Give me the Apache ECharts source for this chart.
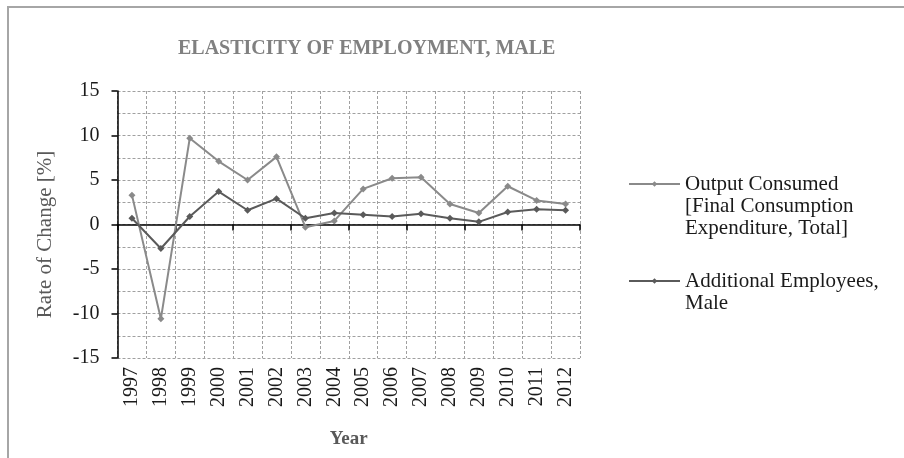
<!DOCTYPE html>
<html>
<head>
<meta charset="utf-8">
<script src="https://cdn.jsdelivr.net/npm/echarts@6/dist/echarts.min.js"></script>
<style>
  html, body { margin: 0; padding: 0; background: #fff; overflow: hidden; }
  #frame { position: absolute; left: 7px; top: 6px; width: 1000px; height: 600px;
           border-left: 2px solid #a6a6a6; border-top: 2px solid #a6a6a6; }
  #chart { position: absolute; left: 0; top: 0; width: 904px; height: 458px; }
</style>
</head>
<body>
<div id="frame"></div>
<div id="chart"></div>
<script>
// Years on the category axis
const years = ['1997','1998','1999','2000','2001','2002','2003','2004',
               '2005','2006','2007','2008','2009','2010','2011','2012'];

// Output consumed: final consumption expenditure, total (% change)
const outputConsumed = [3.3, -10.6, 9.7, 7.1, 5.0, 7.6, -0.3, 0.4,
                        4.0, 5.2, 5.3, 2.3, 1.3, 4.3, 2.7, 2.3];

// Additional employees, male (% change)
const additionalEmployees = [0.7, -2.7, 0.9, 3.7, 1.6, 2.9, 0.7, 1.3,
                             1.1, 0.9, 1.2, 0.7, 0.3, 1.4, 1.7, 1.6];

// Y axis range and step
const yMin = -15, yMax = 15, yStep = 5;

const nameOutput = 'Output Consumed\n[Final Consumption\nExpenditure, Total]';
const nameEmployees = 'Additional Employees,\nMale';

const FONT = '"Liberation Serif", "DejaVu Serif", serif';
const LH = 22;
const gridDash = { color: '#a0a0a0', type: [3, 2], width: 1 };

// Legend text is vertically centred on its icon; leading blank lines
// put the first real line level with the icon instead.
function topAligned(name) {
  const n = name.split('\n').length;
  return '\n'.repeat(n - 1) + name;
}

function legendFor(name, iconY) {
  const n = name.split('\n').length;
  return {
    data: [name], left: 628, top: iconY - (2 * n - 1) * LH / 2, orient: 'vertical',
    padding: 0, itemWidth: 51, itemHeight: 7, itemGap: 0, selectedMode: false,
    formatter: topAligned,
    textStyle: { fontFamily: FONT, fontSize: 21, color: '#1a1a1a', lineHeight: LH }
  };
}

const chart = echarts.init(document.getElementById('chart'), null, { renderer: 'canvas' });

chart.setOption({
  animation: false,
  backgroundColor: 'transparent',
  title: {
    text: 'ELASTICITY OF EMPLOYMENT, MALE',
    left: 173, top: 34,
    textStyle: { fontFamily: FONT, fontSize: 20, fontWeight: 'bold', color: '#808080' }
  },
  legend: [legendFor(nameOutput, 184), legendFor(nameEmployees, 281)],
  grid: { left: 117.5, top: 91, right: 324, bottom: 100, containLabel: false },
  xAxis: [
    {
      type: 'category', data: years, position: 'bottom', boundaryGap: true,
      name: 'Year', nameLocation: 'middle', nameGap: 72,
      nameTextStyle: { fontFamily: FONT, fontSize: 19, fontWeight: 'bold', color: '#595959' },
      axisLine: { show: false, onZero: false },
      axisTick: { show: false },
      axisLabel: { rotate: 90, margin: 9, fontFamily: FONT, fontSize: 20, color: '#1a1a1a' },
      splitLine: { show: true, lineStyle: gridDash }
    },
    {
      type: 'category', data: years, position: 'bottom', boundaryGap: true,
      axisLine: { show: true, onZero: true, lineStyle: { color: '#000', width: 1.5 } },
      axisTick: { show: true, length: 6, inside: false, alignWithLabel: false,
                  lineStyle: { color: '#000', width: 1.5 } },
      axisLabel: { show: false },
      splitLine: { show: false }
    }
  ],
  yAxis: {
    type: 'value', min: yMin, max: yMax, interval: yStep,
    name: 'Rate of Change [%]', nameLocation: 'middle', nameGap: 62, nameRotate: 90,
    nameTextStyle: { fontFamily: FONT, fontSize: 21, color: '#595959', padding: [0, 20, 0, 0] },
    axisLine: { show: true, lineStyle: { color: '#000', width: 1.5 } },
    axisTick: { show: true, length: 6, inside: false, lineStyle: { color: '#000', width: 1.5 } },
    axisLabel: { margin: 18, fontFamily: FONT, fontSize: 20, color: '#1a1a1a' },
    splitLine: { show: true, lineStyle: gridDash },
    minorTick: { show: false, splitNumber: 2 },
    minorSplitLine: { show: true, lineStyle: gridDash }
  },
  series: [
    {
      name: nameOutput, type: 'line', data: outputConsumed, xAxisIndex: 0,
      symbol: 'diamond', symbolSize: 7, showAllSymbol: true,
      lineStyle: { color: '#8a8a8a', width: 2 },
      itemStyle: { color: '#8a8a8a' },
      z: 3
    },
    {
      name: nameEmployees, type: 'line', data: additionalEmployees, xAxisIndex: 0,
      symbol: 'diamond', symbolSize: 7, showAllSymbol: true,
      lineStyle: { color: '#5a5a5a', width: 2 },
      itemStyle: { color: '#5a5a5a' },
      z: 4
    }
  ]
});
</script>
</body>
</html>
